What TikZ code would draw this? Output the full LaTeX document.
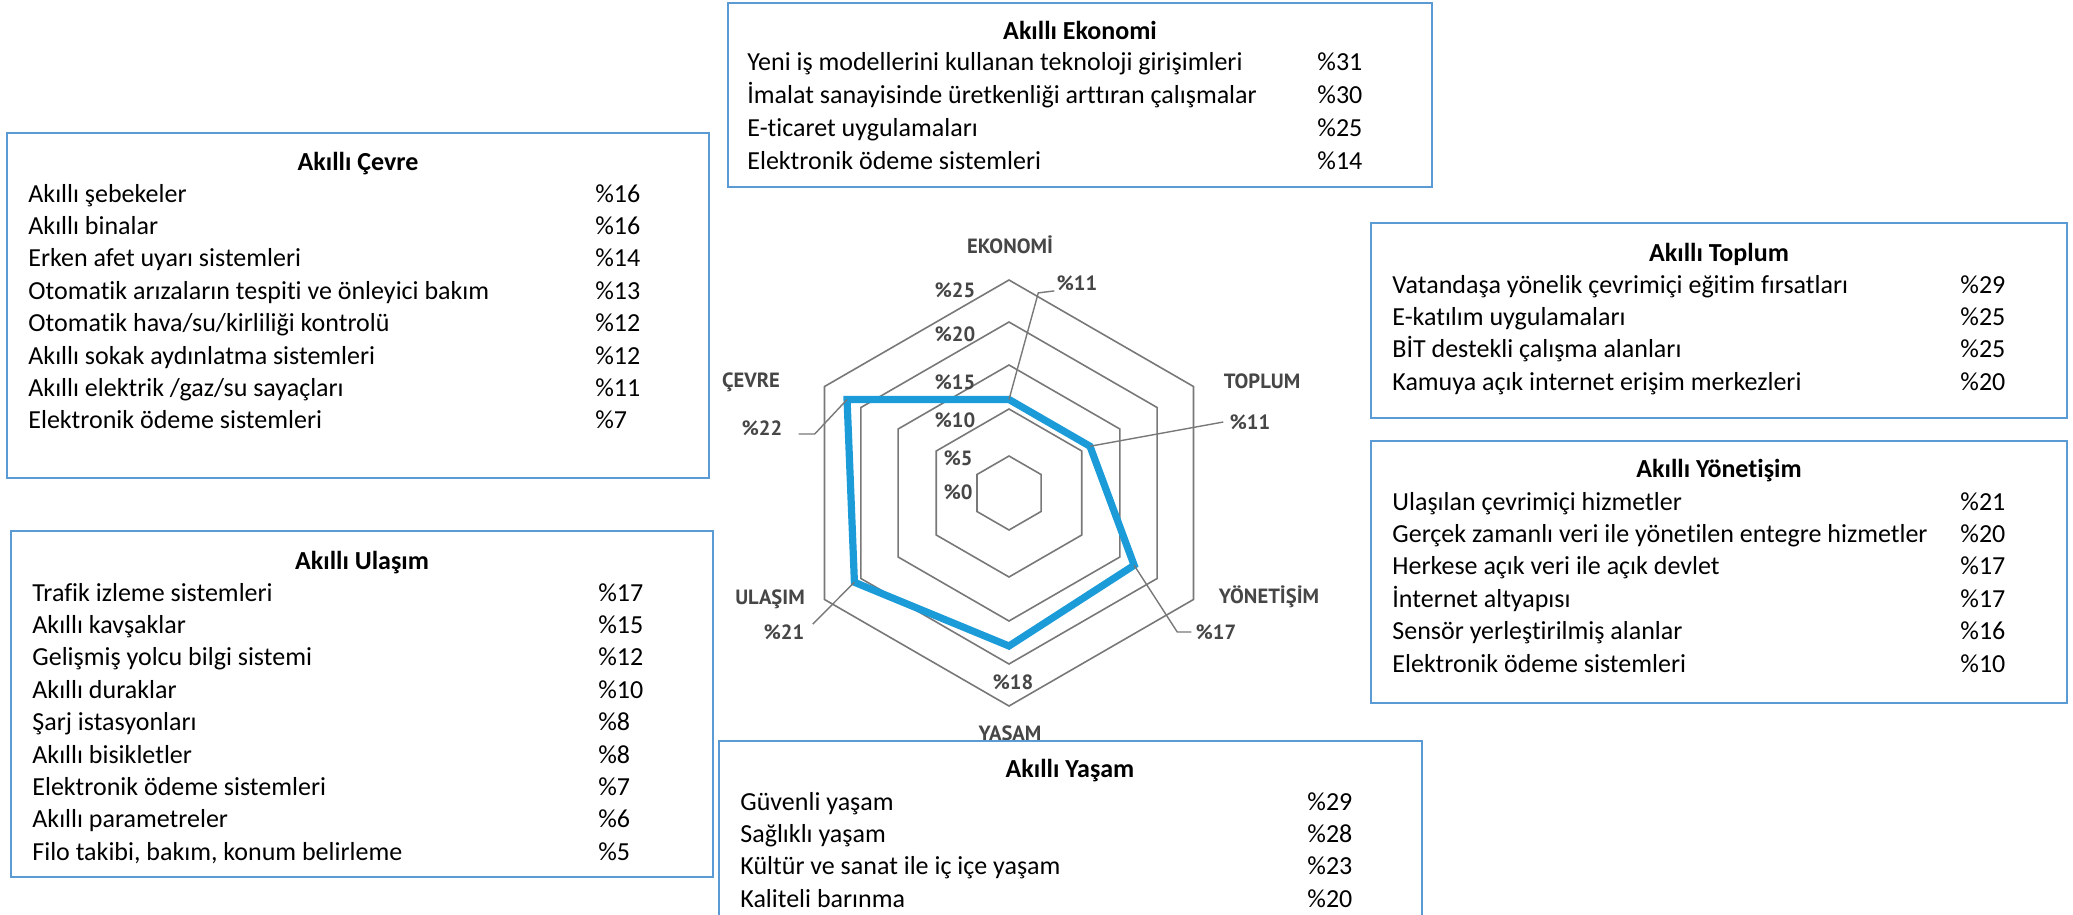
\documentclass[tikz,border=0pt]{standalone}
\usepackage{fontspec}
\setmainfont{Carlito}[Ligatures=NoCommon]
\newfontfamily\lblfont{PT Sans}
\definecolor{boxblue}{RGB}{91,155,213}
\definecolor{datablue}{RGB}{27,155,215}
\definecolor{gridgray}{RGB}{120,120,120}
\definecolor{lblgray}{RGB}{70,70,70}
\newcommand\itemrows[6]{%
  \foreach \t/\p [count=\i from 0] in {#6}{%
    \node[item] (#1t\i) at (#2, #4+\i*#5) {\t};
    \node[item] (#1p\i) at (#3, #4+\i*#5) {\%\p};
  }}
\begin{document}
\begin{tikzpicture}[x=0.5pt, y=-0.5pt,
  item/.style={anchor=base west, inner sep=0pt, font=\fontsize{13}{15.6}\selectfont},
  ttl/.style={anchor=base, inner sep=0pt, font=\fontsize{13}{15.6}\selectfont\bfseries},
  lbl/.style={inner sep=0pt, text=lblgray, font=\lblfont\bfseries\fontsize{10.3}{12}\selectfont},
  bx/.style={draw=boxblue, line width=1.4pt, fill=white},
  grid/.style={draw=gridgray, line width=0.8pt},
  data/.style={draw=datablue, line width=3.6pt, line join=miter},
  lead/.style={draw=gridgray, line width=0.7pt}]
\useasboundingbox (0,0) rectangle (2073,915);
\clip (0,0) rectangle (2073,915);

% radar chart
\begin{scope}[shift={(1009,493)}, y=0.5pt]
  \foreach \r in {37,84,128,171,213}
    \draw[grid] (90:\r) -- (30:\r) -- (-30:\r) -- (-90:\r) -- (-150:\r) -- (150:\r) -- cycle;
  \coordinate (vE) at (90:93.5);
  \coordinate (vT) at (30:93.5);
  \coordinate (vY) at (-30:144.5);
  \coordinate (vL) at (-90:153);
  \coordinate (vU) at (-150:178.5);
  \coordinate (vC) at (150:187);
  \draw[data] (vE) -- (vT) -- (vY) -- (vL) -- (vU) -- (vC) -- cycle;
\end{scope}

% scale labels
\node[lbl] (s25) at (955,290) {\%25};
\node[lbl] (s20) at (955,334) {\%20};
\node[lbl] (s15) at (955,382) {\%15};
\node[lbl] (s10) at (955,420) {\%10};
\node[lbl] (s5)  at (958,458) {\%5};
\node[lbl] (s0)  at (958,492) {\%0};

% axis labels
\node[lbl] (lEko) at (1010,245) {EKONOMİ};
\node[lbl] (pEko) at (1077,283) {\%11};
\node[lbl] (lTop) at (1262,381) {TOPLUM};
\node[lbl] (pTop) at (1250,422) {\%11};
\node[lbl] (lYon) at (1269,597) {YÖNETİŞİM};
\node[lbl] (pYon) at (1216,632) {\%17};
\node[lbl] (pYas) at (1013,682) {\%18};
\node[lbl] (lYas) at (1010,735) {YAŞAM};
\node[lbl] (lUla) at (770,599) {ULAŞIM};
\node[lbl] (pUla) at (784,632) {\%21};
\node[lbl] (lCev) at (751,382) {ÇEVRE};
\node[lbl] (pCev) at (762,428) {\%22};

% leader lines
\draw[lead] ([xshift=-1pt]pEko.south west) -- ++(-16,2) -- (vE);
\draw[lead] ([xshift=-3pt]pTop.west) -- (vT);
\draw[lead] ([xshift=-2pt]pYon.west) -- ++(-14,0) -- (vY);
\draw[lead] ([xshift=4pt]pUla.north east) -- (vU);
\draw[lead] ([xshift=8pt,yshift=-3pt]pCev.east) -- ++(16,0) -- (vC);

% Akilli Ekonomi
\draw[bx] (728,3) rectangle (1432,187);
\node[ttl] (ekoT) at (1080,40) {Akıllı Ekonomi};
\itemrows{eko}{747}{1317}{71}{32.7}{%
  {Yeni iş modellerini kullanan teknoloji girişimleri}/31,
  {İmalat sanayisinde üretkenliği arttıran çalışmalar}/30,
  {E-ticaret uygulamaları}/25,
  {Elektronik ödeme sistemleri}/14}

% Akilli Cevre
\draw[bx] (7,133) rectangle (709,478);
\node[ttl] (cevT) at (358,170) {Akıllı Çevre};
\itemrows{cev}{28}{595}{202}{32.4}{%
  {Akıllı şebekeler}/16,
  {Akıllı binalar}/16,
  {Erken afet uyarı sistemleri}/14,
  {Otomatik arızaların tespiti ve önleyici bakım}/13,
  {Otomatik hava/su/kirliliği kontrolü}/12,
  {Akıllı sokak aydınlatma sistemleri}/12,
  {Akıllı elektrik /gaz/su sayaçları}/11,
  {Elektronik ödeme sistemleri}/7}

% Akilli Ulasim
\draw[bx] (11,531) rectangle (713,877);
\node[ttl] (ulaT) at (362,569) {Akıllı Ulaşım};
\itemrows{ula}{32}{598}{601}{32.4}{%
  {Trafik izleme sistemleri}/17,
  {Akıllı kavşaklar}/15,
  {Gelişmiş yolcu bilgi sistemi}/12,
  {Akıllı duraklar}/10,
  {Şarj istasyonları}/8,
  {Akıllı bisikletler}/8,
  {Elektronik ödeme sistemleri}/7,
  {Akıllı parametreler}/6,
  {Filo takibi, bakım, konum belirleme}/5}

% Akilli Toplum
\draw[bx] (1371,223) rectangle (2067,418);
\node[ttl] (topT) at (1719,261) {Akıllı Toplum};
\itemrows{top}{1392}{1960}{293}{32.4}{%
  {Vatandaşa yönelik çevrimiçi eğitim fırsatları}/29,
  {E-katılım uygulamaları}/25,
  {BİT destekli çalışma alanları}/25,
  {Kamuya açık internet erişim merkezleri}/20}

% Akilli Yonetisim
\draw[bx] (1371,441) rectangle (2067,703);
\node[ttl] (yonT) at (1719,477) {Akıllı Yönetişim};
\itemrows{yon}{1392}{1960}{510}{32.4}{%
  {Ulaşılan çevrimiçi hizmetler}/21,
  {Gerçek zamanlı veri ile yönetilen entegre hizmetler}/20,
  {Herkese açık veri ile açık devlet}/17,
  {İnternet altyapısı}/17,
  {Sensör yerleştirilmiş alanlar}/16,
  {Elektronik ödeme sistemleri}/10}

% Akilli Yasam
\draw[bx] (719,741) rectangle (1422,960);
\node[ttl] (yasT) at (1070,777) {Akıllı Yaşam};
\itemrows{yas}{740}{1307}{810}{32.4}{%
  {Güvenli yaşam}/29,
  {Sağlıklı yaşam}/28,
  {Kültür ve sanat ile iç içe yaşam}/23,
  {Kaliteli barınma}/20}
\end{tikzpicture}
\end{document}
